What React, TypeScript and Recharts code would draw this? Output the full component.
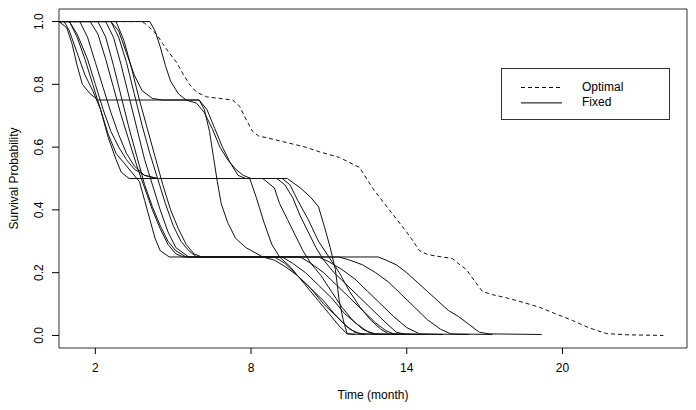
import { LineChart, Line, XAxis, YAxis, Legend, ReferenceArea, Label } from 'recharts';

// survival curves: [time (month), survival probability]
const optimal: number[][] = [
  [0.6, 1], [3.7, 1], [3.9, 0.995], [4.1, 0.98], [4.36, 0.96], [4.59, 0.93], [4.85, 0.9], [5.13, 0.87],
  [5.4, 0.83], [5.63, 0.8], [5.9, 0.775], [6.29, 0.76], [6.8, 0.755], [7.29, 0.75], [7.56, 0.73], [7.8, 0.69],
  [8.06, 0.65], [8.3, 0.635], [8.6, 0.63], [9.1, 0.62], [9.6, 0.61], [10.1, 0.6], [10.64, 0.585], [11.41, 0.567],
  [12.18, 0.535], [12.45, 0.5], [12.68, 0.47], [13.0, 0.435], [13.33, 0.4], [13.66, 0.365], [13.99, 0.33],
  [14.25, 0.3], [14.49, 0.27], [14.8, 0.258], [15.2, 0.252], [15.76, 0.245], [16.05, 0.225], [16.3, 0.21],
  [16.6, 0.175], [16.92, 0.14], [17.3, 0.13], [17.84, 0.12], [18.5, 0.105], [19.11, 0.09], [19.7, 0.07],
  [20.38, 0.048], [21.0, 0.025], [21.69, 0.006], [22.5, 0.002], [23.89, 0.0],
];

const fixed1: number[][] = [
  [0.6, 1], [0.8, 1], [1.0, 0.97], [1.3, 0.9], [1.6, 0.83], [1.9, 0.78], [2.2, 0.72], [2.5, 0.63], [2.8, 0.56],
  [3.0, 0.52], [3.3, 0.5], [9.4, 0.5], [9.9, 0.47], [10.3, 0.44], [10.6, 0.41], [10.85, 0.34], [11.05, 0.28],
  [11.25, 0.21], [11.4, 0.11], [11.55, 0.05], [11.7, 0.006], [12.0, 0.003],
];
const fixed2: number[][] = [
  [0.6, 1], [0.9, 0.98], [1.1, 0.93], [1.3, 0.86], [1.5, 0.8], [1.8, 0.77], [2.1, 0.75], [6.0, 0.75], [6.2, 0.72],
  [6.4, 0.65], [6.55, 0.57], [6.7, 0.49], [6.85, 0.42], [7.1, 0.36], [7.4, 0.31], [7.8, 0.28], [8.45, 0.25],
  [8.9, 0.24], [9.3, 0.22], [9.8, 0.19], [10.3, 0.15], [10.8, 0.11], [11.2, 0.07], [11.6, 0.035], [12.0, 0.01],
  [12.3, 0.005], [13.0, 0.003],
];
const fixed3: number[][] = [
  [0.6, 1], [2.6, 1], [2.9, 0.97], [3.2, 0.9], [3.5, 0.83], [3.8, 0.78], [4.2, 0.755], [4.6, 0.75], [6.0, 0.75],
  [6.3, 0.72], [6.6, 0.66], [6.9, 0.6], [7.2, 0.55], [7.5, 0.51], [7.8, 0.5], [8.45, 0.5], [8.9, 0.47], [9.1, 0.42],
  [9.4, 0.37], [9.7, 0.32], [10.0, 0.27], [10.3, 0.23], [10.7, 0.19], [11.1, 0.14], [11.5, 0.09], [11.9, 0.05],
  [12.3, 0.02], [12.7, 0.005], [13.2, 0.003],
];
const fixed4: number[][] = [
  [0.6, 1], [1.0, 1], [1.3, 0.96], [1.7, 0.88], [2.0, 0.8], [2.3, 0.72], [2.6, 0.65], [2.9, 0.6], [3.2, 0.56],
  [3.5, 0.53], [3.9, 0.51], [4.4, 0.5], [7.95, 0.5], [8.2, 0.44], [8.5, 0.36], [8.8, 0.29], [9.1, 0.25],
  [9.5, 0.22], [10.0, 0.17], [10.5, 0.12], [11.0, 0.07], [11.4, 0.03], [11.7, 0.005], [12.4, 0.003],
];
const fixed5: number[][] = [
  [0.6, 1], [1.4, 1], [1.7, 0.95], [2.0, 0.87], [2.3, 0.79], [2.6, 0.71], [2.9, 0.64], [3.2, 0.58], [3.5, 0.54],
  [3.9, 0.51], [4.4, 0.5], [9.2, 0.5], [9.5, 0.48], [9.8, 0.43], [10.2, 0.37], [10.6, 0.3], [11.0, 0.25],
  [11.4, 0.2], [11.8, 0.14], [12.2, 0.09], [12.6, 0.05], [13.0, 0.02], [13.3, 0.005], [14.0, 0.003],
];
const fixed6: number[][] = [
  [0.6, 1], [1.0, 1], [1.3, 0.95], [1.6, 0.88], [1.9, 0.8], [2.2, 0.72], [2.5, 0.64], [2.8, 0.58], [3.1, 0.55],
  [3.4, 0.52], [3.7, 0.49], [3.9, 0.43], [4.1, 0.37], [4.3, 0.31], [4.5, 0.27], [4.85, 0.25], [12.9, 0.25],
  [13.2, 0.24], [13.6, 0.225], [14.0, 0.2], [14.4, 0.17], [14.8, 0.14], [15.2, 0.11], [15.6, 0.08], [16.0, 0.06],
  [16.4, 0.035], [16.8, 0.01], [17.2, 0.005], [19.2, 0.003],
];
const fixed7: number[][] = [
  [0.6, 1], [1.8, 1], [2.1, 0.96], [2.4, 0.88], [2.7, 0.79], [3.0, 0.7], [3.3, 0.62], [3.6, 0.54], [3.9, 0.47],
  [4.2, 0.4], [4.5, 0.34], [4.8, 0.29], [5.1, 0.26], [5.4, 0.25], [11.4, 0.25], [11.8, 0.24], [12.3, 0.225],
  [12.8, 0.2], [13.3, 0.17], [13.8, 0.13], [14.3, 0.09], [14.8, 0.05], [15.3, 0.02], [15.7, 0.005], [17.3, 0.003],
];
const fixed8: number[][] = [
  [0.6, 1], [2.1, 1], [2.4, 0.95], [2.7, 0.86], [3.0, 0.76], [3.3, 0.66], [3.6, 0.57], [3.9, 0.48], [4.2, 0.41],
  [4.5, 0.35], [4.8, 0.3], [5.1, 0.27], [5.5, 0.25], [10.6, 0.25], [11.0, 0.235], [11.5, 0.21], [12.0, 0.18],
  [12.5, 0.14], [13.0, 0.1], [13.5, 0.06], [14.0, 0.025], [14.5, 0.005], [16.4, 0.003],
];
const fixed9: number[][] = [
  [0.6, 1], [2.4, 1], [2.7, 0.95], [3.0, 0.86], [3.3, 0.76], [3.6, 0.66], [3.9, 0.56], [4.2, 0.48], [4.5, 0.4],
  [4.8, 0.33], [5.1, 0.28], [5.6, 0.25], [9.9, 0.25], [10.3, 0.23], [10.8, 0.2], [11.3, 0.16], [11.8, 0.12],
  [12.3, 0.08], [12.8, 0.04], [13.2, 0.015], [13.5, 0.005], [15.4, 0.003],
];
const fixed10: number[][] = [
  [0.6, 1], [2.6, 1], [2.9, 0.95], [3.2, 0.87], [3.5, 0.77], [3.8, 0.67], [4.1, 0.58], [4.4, 0.5], [4.7, 0.42],
  [5.0, 0.35], [5.3, 0.3], [5.6, 0.27], [5.9, 0.25], [9.2, 0.25], [9.6, 0.23], [10.1, 0.2], [10.6, 0.16],
  [11.1, 0.12], [11.6, 0.07], [12.1, 0.035], [12.5, 0.012], [12.8, 0.005], [14.8, 0.003],
];
const fixed11: number[][] = [
  [0.6, 1], [2.8, 1], [3.1, 0.94], [3.4, 0.85], [3.7, 0.75], [4.0, 0.66], [4.3, 0.57], [4.6, 0.48], [4.9, 0.4],
  [5.2, 0.34], [5.5, 0.29], [5.8, 0.26], [6.1, 0.25], [8.9, 0.25], [9.3, 0.23], [9.8, 0.19], [10.3, 0.15],
  [10.8, 0.1], [11.3, 0.06], [11.8, 0.02], [12.2, 0.005], [13.7, 0.003],
];
const fixed12: number[][] = [
  [0.6, 1], [4.1, 1], [4.3, 0.97], [4.5, 0.92], [4.7, 0.86], [4.9, 0.81], [5.2, 0.77], [5.5, 0.75], [5.9, 0.74],
  [6.2, 0.71], [6.5, 0.66], [6.8, 0.6], [7.1, 0.56], [7.4, 0.53], [7.7, 0.51], [8.0, 0.5], [9.0, 0.5],
  [9.3, 0.48], [9.6, 0.44], [9.9, 0.38], [10.2, 0.33], [10.5, 0.28], [10.8, 0.24], [11.2, 0.2], [11.7, 0.16],
  [12.2, 0.12], [12.7, 0.08], [13.2, 0.04], [13.6, 0.01], [13.9, 0.005], [14.5, 0.003],
];

const fixedCurves = [fixed1, fixed2, fixed3, fixed4, fixed5, fixed6, fixed7, fixed8, fixed9, fixed10, fixed11, fixed12];

const xTicks = [2, 8, 14, 20];
const yTicks = [0, 0.2, 0.4, 0.6, 0.8, 1.0];
const legendItems = [
  { name: 'Optimal', dash: '4 3' },
  { name: 'Fixed', dash: undefined },
];

const FONT = '"Liberation Sans", Arial, Helvetica, sans-serif';

const toRows = (pts: number[][]) => pts.map(([t, s]) => ({ t, s }));

function YTick({ x, y, payload }: any) {
  return (
    <text x={x} y={y} transform={`rotate(-90 ${x} ${y})`} textAnchor="middle"
      fontSize={12} fontFamily={FONT} fill="#000">
      {Number(payload.value).toFixed(1)}
    </text>
  );
}

function LegendBox() {
  return (
    <svg width={169} height={52}>
      <rect x={0.5} y={0.5} width={168} height={51} fill="#fff" stroke="#333" />
      {legendItems.map((it, i) => (
        <g key={it.name}>
          <line x1={20} x2={61} y1={19.5 + i * 15.4} y2={19.5 + i * 15.4} stroke="#000" strokeDasharray={it.dash} />
          <text x={81} y={23 + i * 15.4} fontSize={12} fontFamily={FONT} fill="#000">{it.name}</text>
        </g>
      ))}
    </svg>
  );
}

export default function App() {
  return (
    <div style={{ position: 'absolute', left: 0, top: 0, background: '#fff' }}>
      <LineChart width={696} height={410} margin={{ top: 9, right: 9, bottom: 0, left: 0 }}>
        <XAxis
          type="number"
          dataKey="t"
          domain={[0.6, 24.8]}
          allowDataOverflow
          ticks={xTicks}
          axisLine={false}
          tickLine={{ stroke: '#000' }}
          tickSize={6}
          tickMargin={9}
          height={62}
          tick={{ fontSize: 12, fontFamily: FONT, fill: '#000' }}
        >
          <Label
            content={({ viewBox }: any) => (
              <text x={viewBox.x + viewBox.width / 2} y={viewBox.y + 51} textAnchor="middle"
                fontSize={12} fontFamily={FONT} fill="#000">Time (month)</text>
            )}
          />
        </XAxis>
        <YAxis
          type="number"
          domain={[-0.04, 1.04]}
          allowDataOverflow
          ticks={yTicks}
          axisLine={false}
          tickLine={{ stroke: '#000' }}
          tickSize={7}
          tickMargin={9}
          width={59}
          tick={<YTick />}
        >
          <Label
            content={({ viewBox }: any) => {
              const cx = 18;
              const cy = viewBox.y + viewBox.height / 2;
              return (
                <text x={cx} y={cy} transform={`rotate(-90 ${cx} ${cy})`} textAnchor="middle"
                  fontSize={12} fontFamily={FONT} fill="#000">Survival Probability</text>
              );
            }}
          />
        </YAxis>
        <ReferenceArea x1={0.6} x2={24.8} y1={-0.04} y2={1.04} fill="none" stroke="#333" strokeWidth={1} ifOverflow="visible" />
        {fixedCurves.map((c, i) => (
          <Line key={i} data={toRows(c)} dataKey="s" type="linear" stroke="#111" strokeWidth={1}
            dot={false} activeDot={false} isAnimationActive={false} legendType="none" />
        ))}
        <Line data={toRows(optimal)} dataKey="s" type="linear" stroke="#111" strokeWidth={1}
          strokeDasharray="4 3" dot={false} activeDot={false} isAnimationActive={false} />
        <Legend
          layout="vertical"
          align="center"
          verticalAlign="middle"
          content={() => <LegendBox />}
          wrapperStyle={{ left: 501, top: 68, width: 169, height: 52 }}
        />
      </LineChart>
    </div>
  );
}
